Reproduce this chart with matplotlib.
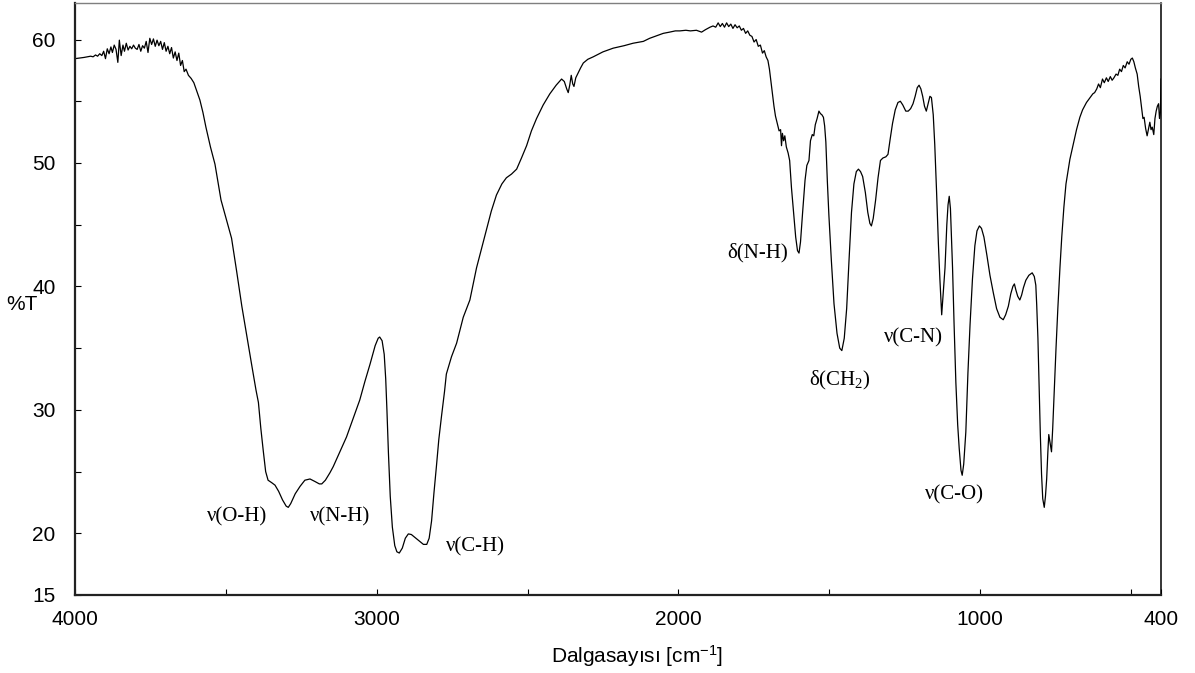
import matplotlib
matplotlib.use("Agg")
import matplotlib.pyplot as plt
from matplotlib.ticker import FixedLocator

# FT-IR spectrum, wavenumber (cm-1) vs transmittance (%T)
wavenumber = [
    4000, 3985, 3970, 3958, 3948, 3940, 3932, 3925, 3918, 3911, 3905, 3899, 3893, 3887, 3881,
    3876, 3870, 3864, 3858, 3853, 3847, 3841, 3836, 3830, 3824, 3818, 3812, 3806, 3800, 3794,
    3788, 3782, 3776, 3770, 3764, 3758, 3752, 3746, 3740, 3734, 3728, 3722, 3716, 3710, 3704,
    3698, 3692, 3686, 3680, 3674, 3668, 3662, 3656, 3650, 3644, 3638, 3632, 3624, 3615, 3606,
    3596, 3586, 3576, 3566, 3551, 3536, 3516, 3498, 3481, 3464, 3447, 3430, 3414, 3400, 3392,
    3384, 3376, 3368, 3360, 3348, 3337, 3325, 3312, 3300, 3293, 3285, 3270, 3254, 3238, 3221,
    3205, 3190, 3182, 3170, 3155, 3144, 3120, 3100, 3078, 3056, 3039, 3022, 3005, 2995, 2990,
    2982, 2975, 2970, 2966, 2961, 2955, 2948, 2940, 2933, 2925, 2915, 2905, 2895, 2885, 2870,
    2855, 2845, 2834, 2826, 2818, 2810, 2802, 2794, 2785, 2775, 2769, 2752, 2735, 2713, 2691,
    2680, 2669, 2652, 2636, 2620, 2603, 2585, 2570, 2553, 2536, 2520, 2503, 2487, 2470, 2448,
    2426, 2405, 2387, 2378, 2370, 2365, 2360, 2355, 2350, 2346, 2340, 2332, 2324, 2315, 2300,
    2282, 2250, 2216, 2180, 2150, 2116, 2095, 2072, 2050, 2029, 2010, 1995, 1975, 1960, 1940,
    1923, 1910, 1895, 1885, 1876, 1868, 1861, 1854, 1847, 1840, 1833, 1826, 1819, 1812, 1805,
    1798, 1791, 1784, 1777, 1770, 1763, 1756, 1749, 1742, 1735, 1728, 1721, 1715, 1709, 1703,
    1698, 1693, 1688, 1683, 1678, 1672, 1666, 1661, 1658, 1655, 1651, 1647, 1642, 1636, 1631,
    1625, 1618, 1611, 1605, 1600, 1595, 1588, 1580, 1574, 1567, 1562, 1556, 1551, 1546, 1540,
    1534, 1529, 1524, 1519, 1515, 1511, 1506, 1501, 1493, 1484, 1474, 1465, 1458, 1450, 1442,
    1434, 1426, 1418, 1410, 1403, 1396, 1389, 1380, 1372, 1365, 1360, 1354, 1346, 1338, 1330,
    1322, 1312, 1305, 1298, 1290, 1281, 1272, 1264, 1256, 1246, 1238, 1230, 1222, 1215, 1208,
    1202, 1196, 1190, 1184, 1178, 1172, 1166, 1161, 1155, 1150, 1144, 1138, 1133, 1127, 1121,
    1116, 1110, 1106, 1102, 1098, 1094, 1091, 1086, 1080, 1074, 1069, 1063, 1059, 1054, 1047,
    1040, 1033, 1025, 1017, 1010, 1002, 995, 987, 977, 967, 956, 945, 934, 923, 915,
    906, 898, 891, 886, 881, 875, 868, 862, 856, 848, 838, 827, 820, 815, 812,
    808, 804, 800, 796, 792, 787, 783, 779, 775, 772, 768, 763, 759, 754, 748,
    742, 735, 729, 722, 715, 702, 690, 680, 669, 660, 647, 635, 626, 620, 613,
    607, 601, 594, 588, 581, 575, 568, 562, 556, 549, 543, 537, 531, 525, 519,
    512, 506, 500, 495, 490, 485, 479, 474, 469, 464, 460, 456, 451, 446, 441,
    437, 433, 429, 424, 420, 416, 412, 408, 405, 402, 400,
]
transmittance = [
    58.45, 58.50, 58.55, 58.60, 58.65, 58.60, 58.75, 58.65, 58.85, 58.70, 59.05, 58.45, 59.25, 58.85, 59.40,
    58.95, 59.55, 59.20, 58.15, 59.95, 58.70, 59.55, 59.05, 59.70, 59.15, 59.45, 59.25, 59.55, 59.30, 59.20,
    59.60, 59.05, 59.50, 59.30, 59.85, 58.95, 60.10, 59.60, 60.05, 59.45, 59.95, 59.50, 59.85, 59.20, 59.75,
    59.05, 59.45, 58.85, 59.35, 58.50, 59.00, 58.30, 58.90, 57.90, 58.30, 57.40, 57.60, 57.10, 56.85, 56.50,
    55.80, 55.10, 54.10, 52.90, 51.30, 49.90, 47.00, 45.40, 43.90, 41.20, 38.40, 35.90, 33.60, 31.60, 30.60,
    28.50, 26.70, 25.00, 24.30, 24.10, 23.90, 23.40, 22.70, 22.20, 22.10, 22.40, 23.20, 23.80, 24.30, 24.40,
    24.20, 24.00, 24.00, 24.30, 24.90, 25.40, 26.70, 27.80, 29.30, 30.80, 32.30, 33.70, 35.20, 35.80, 35.90,
    35.60, 34.50, 32.50, 30.00, 26.50, 23.00, 20.50, 19.00, 18.50, 18.40, 18.80, 19.60, 19.95, 19.90, 19.60,
    19.30, 19.10, 19.10, 19.60, 21.00, 23.30, 25.40, 27.60, 29.50, 31.50, 32.90, 34.30, 35.40, 37.50, 38.90,
    40.20, 41.50, 43.10, 44.60, 46.10, 47.40, 48.30, 48.80, 49.10, 49.50, 50.40, 51.40, 52.60, 53.60, 54.70,
    55.60, 56.30, 56.80, 56.60, 56.00, 55.70, 56.30, 57.10, 56.40, 56.20, 56.90, 57.30, 57.70, 58.10, 58.40,
    58.60, 59.00, 59.30, 59.50, 59.70, 59.85, 60.10, 60.30, 60.50, 60.60, 60.70, 60.70, 60.75, 60.70, 60.75,
    60.60, 60.80, 61.00, 61.10, 61.00, 61.35, 61.05, 61.30, 61.00, 61.35, 61.05, 61.25, 60.90, 61.20, 60.95,
    61.10, 60.75, 60.90, 60.50, 60.70, 60.35, 60.25, 59.80, 60.00, 59.45, 59.55, 58.90, 59.10, 58.60, 58.30,
    57.60, 56.60, 55.60, 54.60, 53.80, 53.20, 52.60, 52.70, 51.40, 52.40, 51.80, 52.20, 51.30, 50.80, 50.20,
    48.00, 46.00, 44.00, 42.90, 42.70, 43.60, 46.00, 48.60, 49.80, 50.20, 51.80, 52.30, 52.20, 53.10, 53.60,
    54.20, 54.00, 53.90, 53.70, 53.00, 51.70, 48.50, 45.80, 42.20, 38.60, 36.20, 35.00, 34.80, 35.80, 38.20,
    42.20, 46.00, 48.30, 49.30, 49.50, 49.30, 48.90, 47.60, 46.00, 45.10, 44.90, 45.50, 47.00, 48.80, 50.20,
    50.40, 50.50, 50.70, 51.90, 53.20, 54.30, 54.90, 55.00, 54.70, 54.20, 54.20, 54.40, 54.80, 55.40, 56.10,
    56.30, 56.00, 55.40, 54.60, 54.20, 54.80, 55.40, 55.30, 53.90, 51.50, 47.70, 43.50, 40.60, 37.70, 39.80,
    41.50, 45.00, 46.60, 47.30, 46.30, 43.50, 41.50, 37.00, 32.20, 28.80, 26.90, 25.10, 24.70, 25.60, 28.20,
    33.00, 36.90, 40.60, 43.30, 44.50, 44.90, 44.70, 44.00, 42.50, 40.90, 39.50, 38.20, 37.50, 37.30, 37.70,
    38.40, 39.40, 40.00, 40.20, 39.70, 39.20, 38.90, 39.30, 39.90, 40.50, 40.90, 41.10, 40.80, 40.10, 38.50,
    35.80, 32.00, 28.00, 24.80, 22.80, 22.10, 23.00, 24.40, 26.60, 28.00, 27.40, 26.60, 28.50, 31.50, 35.00,
    38.20, 41.50, 44.00, 46.40, 48.30, 50.30, 51.60, 52.70, 53.70, 54.30, 54.90, 55.30, 55.60, 55.70, 56.00,
    56.40, 56.10, 56.80, 56.50, 56.90, 56.60, 57.00, 56.70, 56.90, 57.20, 57.10, 57.60, 57.40, 57.90, 57.70,
    58.20, 58.00, 58.40, 58.50, 58.20, 57.70, 57.20, 56.20, 55.40, 54.40, 53.60, 53.70, 52.80, 52.20, 52.80,
    53.30, 52.70, 52.90, 52.30, 53.60, 54.20, 54.60, 54.80, 53.60, 54.10, 56.80,
]

# band assignments and where their labels sit (wavenumber, %T)
band_labels = ["ν(O-H)", "ν(N-H)", "ν(C-H)", "δ(N-H)", "δ(CH$\\mathregular{_2}$)", "ν(C-N)", "ν(C-O)"]
label_x = [3463, 3120, 2674, 1738, 1464, 1222, 1085]
label_y = [21.3, 21.3, 18.9, 42.75, 32.4, 35.8, 23.1]

x_ticks = [4000, 3000, 2000, 1000, 400]
x_minor = [3500, 2500, 1500, 500]
y_ticks = [15, 20, 30, 40, 50, 60]
y_minor = [25, 35, 45, 55]

plt.rcParams['font.family'] = ['Liberation Sans', 'DejaVu Sans']

fig = plt.figure(figsize=(11.95, 6.73), dpi=100)
ax = fig.add_axes([75 / 1195, 1 - 595 / 673, (1161 - 75) / 1195, (595 - 2.5) / 673])

ax.plot(wavenumber, transmittance, color="black", linewidth=0.9)

for txt, bx, by in zip(band_labels, label_x, label_y):
    ax.text(bx, by, txt, fontsize=15, ha="center", va="center",
            family=['Liberation Serif', 'DejaVu Serif'])

ax.set_xlim(4000, 400)
ax.set_ylim(15, 63)
ax.xaxis.set_major_locator(FixedLocator(x_ticks))
ax.xaxis.set_minor_locator(FixedLocator(x_minor))
ax.yaxis.set_major_locator(FixedLocator(y_ticks))
ax.yaxis.set_minor_locator(FixedLocator(y_minor))
ax.tick_params(which="both", direction="in", length=4, width=0.8, labelsize=15)
ax.tick_params(axis="x", pad=11)
ax.tick_params(axis="y", pad=14)

ax.set_xlabel("Dalgasayısı [cm$\\mathregular{^{-1}}$]", fontsize=15)
ax.xaxis.set_label_coords(0.518, -0.082)
ax.set_ylabel("%T", fontsize=15, rotation=0, va="center", ha="center")
ax.yaxis.set_label_coords(-0.049, 0.49)

# frame: heavier left/bottom, light top
ax.spines["left"].set_linewidth(1.6)
ax.spines["left"].set_color("#222222")
ax.spines["bottom"].set_linewidth(1.6)
ax.spines["bottom"].set_color("#222222")
ax.spines["top"].set_linewidth(1.0)
ax.spines["top"].set_color("#7f7f7f")
ax.spines["right"].set_linewidth(1.1)
ax.spines["right"].set_color("black")

plt.savefig("out.png", dpi=100)
